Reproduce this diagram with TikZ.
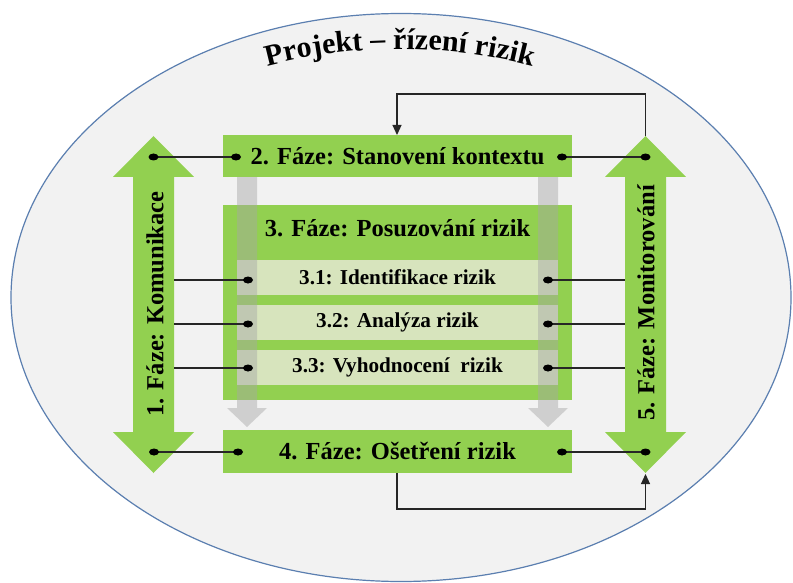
\documentclass[tikz,border=0pt]{standalone}
\usepackage{fontspec}
\setmainfont{Liberation Serif}
\usetikzlibrary{arrows.meta,decorations.text}
\definecolor{phasegreen}{HTML}{92D050}
\definecolor{subgreen}{HTML}{D7E4BD}
\definecolor{ellfill}{HTML}{F2F2F2}
\definecolor{ellline}{HTML}{5B7FB0}
\definecolor{flowgray}{HTML}{A6A6A6}
\tikzset{
  phasebox/.style={fill=phasegreen, minimum width=349pt, inner sep=0pt, font=\fontsize{24.5}{28}\selectfont\bfseries},
  subbox/.style={fill=subgreen, minimum width=321pt, minimum height=35pt, inner sep=0pt, font=\fontsize{21.2}{24}\selectfont\bfseries},
  bigarrow/.style={fill=phasegreen},
  arrowtext/.style={rotate=90, inner sep=0pt, font=\fontsize{24.5}{28}\selectfont\bfseries},
  flowarrow/.style={fill=flowgray, fill opacity=0.45},
  link/.style={draw=black!85, line width=1.1pt},
  feedback/.style={draw=black!85, line width=1.1pt, -{Triangle[length=10pt,width=9pt]}},
}
\newcommand\linkdot[1]{\fill[black] (#1) ellipse [x radius=5, y radius=3.5];}
\begin{document}
\begin{tikzpicture}[x=1pt,y=-1pt]
\useasboundingbox (0,0) rectangle (793,583);
\fill[white] (0,0) rectangle (793,583);
% outer ellipse
\draw[fill=ellfill, draw=ellline, line width=1.2pt] (401,297.5) ellipse [x radius=390, y radius=284];
% title on arc
\path[decorate, decoration={text along path, text align=center,
  text={|\fontsize{30}{32}\selectfont\bfseries|Projekt – řízení rizik}}]
  (222.2,80.4) arc[start angle=110, end angle=70, radius=520pt];

% phase boxes
\node[phasebox, minimum height=42pt] (ctx) at (397.5,156) {2. Fáze: Stanovení kontextu};
\node[phasebox, minimum height=195pt] (assess) at (397.5,302.5) {};
\node[font=\fontsize{24.5}{28}\selectfont\bfseries, inner sep=0pt] (assesstitle) at (397.5,228) {3. Fáze: Posuzování rizik};
\node[subbox] (ident) at (397.5,277.5) {3.1: Identifikace rizik};
\node[subbox] (anal) at (397.5,322) {3.2: Analýza rizik};
\node[subbox] (eval) at (397.5,367) {3.3: Vyhodnocení\ \ rizik};
\node[phasebox, minimum height=43pt] (treat) at (397.5,451.5) {4. Fáze: Ošetření rizik};

% gray flow arrows
\fill[flowarrow] (237,177) -- (257,177) -- (257,408) -- (267,408) -- (247,427) -- (227,408) -- (237,408) -- cycle;
\fill[flowarrow] (538,177) -- (558,177) -- (558,408) -- (568,408) -- (548,427) -- (528,408) -- (538,408) -- cycle;

% big double arrows
\fill[bigarrow] (153.5,136) -- (194,177) -- (174,177) -- (174,432) -- (194,432) -- (153.5,473)
  -- (113,432) -- (133,432) -- (133,177) -- (113,177) -- cycle;
\fill[bigarrow] (645.5,136) -- (686,177) -- (666,177) -- (666,432) -- (686,432) -- (645.5,473)
  -- (605,432) -- (625,432) -- (625,177) -- (605,177) -- cycle;
\node[arrowtext] (comm) at (155,304) {1. Fáze: Komunikace};
\node[arrowtext] (mon) at (646,303) {5. Fáze: Monitorování};

% link coordinates
\coordinate (commA) at (153.5,157);
\coordinate (ctxL) at (236,157);
\coordinate (ctxR) at (562,157);
\coordinate (monA) at (645.5,157);
\coordinate (commS1) at (174,280);
\coordinate (identL) at (248,280);
\coordinate (identR) at (548,280);
\coordinate (monS1) at (625,280);
\coordinate (commS2) at (174,324);
\coordinate (analL) at (248,324);
\coordinate (analR) at (548,324);
\coordinate (monS2) at (625,324);
\coordinate (commS3) at (174,368);
\coordinate (evalL) at (248,368);
\coordinate (evalR) at (548,368);
\coordinate (monS3) at (625,368);
\coordinate (commB) at (154,452);
\coordinate (treatL) at (238,452);
\coordinate (treatR) at (562,452);
\coordinate (monB) at (645.5,452);

\draw[link] (commA) -- (ctxL);
\draw[link] (ctxR) -- (monA);
\draw[link] (commS1) -- (identL);
\draw[link] (identR) -- (monS1);
\draw[link] (commS2) -- (analL);
\draw[link] (analR) -- (monS2);
\draw[link] (commS3) -- (evalL);
\draw[link] (evalR) -- (monS3);
\draw[link] (commB) -- (treatL);
\draw[link] (treatR) -- (monB);
\linkdot{commA}\linkdot{ctxL}\linkdot{ctxR}\linkdot{monA}
\linkdot{identL}\linkdot{identR}\linkdot{analL}\linkdot{analR}\linkdot{evalL}\linkdot{evalR}
\linkdot{commB}\linkdot{treatL}\linkdot{treatR}\linkdot{monB}

% feedback loops
\coordinate (monTop) at (645.5,136);
\coordinate (ctxIn) at (397,135);
\coordinate (treatOut) at (397,473);
\coordinate (monBot) at (645.5,474);
\draw[feedback] (monTop) -- ++(0,-42) -| (ctxIn);
\draw[feedback] (treatOut) -- ++(0,36) -| (monBot);
\end{tikzpicture}
\end{document}
